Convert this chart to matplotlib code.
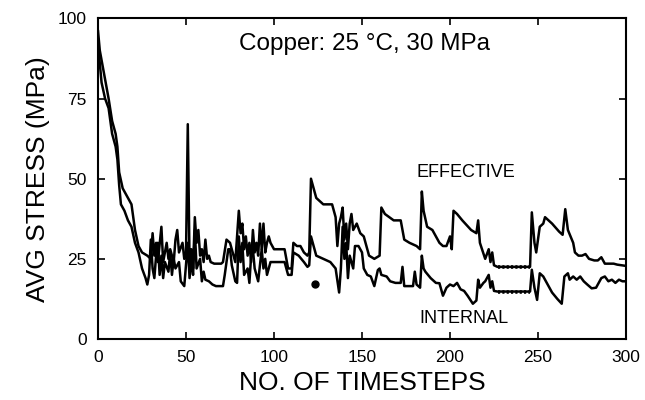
import numpy as np
import matplotlib.pyplot as plt

plt.rcParams['font.family'] = ['Liberation Sans', 'DejaVu Sans']

# EFFECTIVE stress (upper curve)
t_eff = [0, 1, 3, 5, 6, 8, 10, 11, 12, 14, 17, 19, 21, 23, 25, 28, 30,
         31, 32, 33, 34, 36, 37, 39, 40, 41, 43, 44, 45, 46, 48, 49, 50,
         51, 52, 53, 54, 55, 56, 57, 58, 59, 60, 61, 62, 63, 64, 66, 70,
         71, 73, 75, 77, 78, 80, 81, 82, 83, 84, 85, 86, 87, 88, 89, 90,
         91, 92, 93, 94, 95, 96, 97, 98, 100, 106, 108, 110, 111, 113, 115,
         117, 119, 120, 121, 122, 124, 128, 133, 135, 136, 137, 138, 139,
         140, 141, 142, 143, 144, 145, 147, 149, 151, 152, 154, 157, 160,
         161, 163, 168, 172, 174, 177, 181, 183, 184, 185, 187, 190, 192,
         194, 196, 198, 200, 201, 202, 204, 207, 212, 215, 216, 217, 220,
         222, 223, 224, 225, 227, 245.5, 246.5, 248, 249, 251, 253, 254,
         256, 258, 262, 264, 265.5, 267, 270, 271, 273, 275, 277, 279, 282,
         284, 286, 288, 293, 295, 300]
v_eff = [96, 90, 84, 78, 75, 68, 64, 60, 52, 47, 44, 42, 34, 29, 27, 26, 25,
         33, 26, 30, 24, 35, 24, 30, 25, 28, 24, 31, 34, 27, 30, 25, 27,
         67, 24, 28, 22, 38, 30, 34, 26, 28, 24, 31, 25, 26, 24, 23.5, 23.5,
         24, 31, 30, 26, 24, 40, 33, 36, 28, 32, 26, 30, 24, 34, 27, 30,
         26, 36, 28, 36, 27, 30, 32, 30, 28, 28, 22, 22, 30, 29, 29,
         27, 26, 27, 50, 48, 44, 42, 42, 38, 29, 36, 38, 41,
         31, 36, 28, 36, 39, 34, 36, 33, 32, 30, 26, 25, 26,
         41, 39, 37, 37, 31, 30, 29, 28, 46, 40, 35, 34, 32,
         30, 29, 29, 32, 28, 40, 39, 37, 34, 33, 37, 30, 25,
         28, 24, 27, 23, 22.5, 22.5, 39.5, 30, 27, 35, 36, 38,
         37, 36, 33.5, 32.5, 40.5, 34, 30, 27, 26, 26, 26.5, 25, 24.5,
         24.5, 25.5, 23.5, 23.5, 23.2, 22.8]

# INTERNAL stress (lower curve)
t_int = [0, 1, 2, 4, 6, 8, 10, 11, 12, 13, 15, 17, 19, 21, 23, 25, 27, 28,
         29, 30, 31, 32, 33, 34, 35, 36, 37, 38, 40, 41, 42, 43, 44, 46, 47,
         49, 51, 52, 53, 54, 55, 56, 58, 59, 60, 61, 63, 65, 67, 71, 72, 74,
         75, 76, 78, 79, 80, 81, 82, 83, 85, 86, 87, 88, 89, 90, 91, 93, 94,
         95, 96, 98, 104, 106, 108, 110, 111, 114, 117, 119, 120, 121, 122,
         124, 128, 132, 135, 137, 138, 139, 140, 141, 142, 143, 145, 146,
         148, 150, 151, 153, 155, 157, 159, 160, 161, 164, 166, 169, 172,
         173, 174, 179, 180, 181, 183, 184, 185, 186, 189, 192, 194, 196,
         198, 200, 202, 204, 206, 208, 210, 213, 215, 216, 217, 219, 220,
         222, 223, 224, 225, 227, 245.5, 246.5, 248, 249.5, 251, 253, 255,
         258, 261, 263.5, 265, 267, 268, 270, 272, 274, 276, 278, 280.5, 283,
         286, 288, 290, 292, 294, 296, 298, 300]
v_int = [92, 86, 80, 75, 72, 64, 60, 56, 48, 42, 40, 37, 35, 30, 27, 22, 19, 17,
         20, 31, 22, 19, 26, 30, 20, 26, 19, 24, 21, 27, 20, 25, 22, 24, 18,
         16.5, 30, 19, 25, 20, 34, 22, 25, 18, 21, 18.5, 18, 17, 16.5, 16.5, 20, 28,
         28, 23, 18, 17.5, 32, 24, 30, 20, 22, 17.5, 26, 28, 22, 20, 18, 28, 22,
         25, 20, 24, 24, 24, 20, 20, 27, 26, 24, 22.5, 23, 32, 30,
         26, 25, 24, 22, 14.5, 22, 35, 25, 30, 19, 26, 22, 29,
         29, 27, 22, 20, 19.5, 16.5, 21.5, 22, 20, 19.5, 18, 17.5, 17.5,
         22.5, 16.5, 16.5, 21, 17, 16, 26, 22, 21, 19, 17.5, 17.4, 13.5,
         16, 17, 16.5, 17.5, 15.5, 15, 13.5, 11, 12, 18.5, 16, 17.5, 18,
         20, 16, 18, 15, 14.8, 14.8, 21.6, 16, 12.2, 20.5, 19.5, 17.5,
         14.5, 12.5, 11, 19.5, 20.5, 18.5, 19.5, 18.5, 19.5, 18, 17, 15.8, 16,
         19, 19.5, 18, 18.5, 17.5, 18.5, 18, 18]

# flat stretches drawn with a dotted look in the original
flat_t = [227, 245.5]
flat_eff = [22.5, 22.5]
flat_int = [14.8, 14.8]

# stray dot in the original figure
dot_t = [123.5]
dot_v = [17]

fig = plt.figure(figsize=(6.45, 4.0), dpi=100)
ax = fig.add_axes([0.152, 0.1525, 0.8185, 0.8015])

ax.plot(t_eff, v_eff, color='black', lw=1.8)
ax.plot(t_int, v_int, color='black', lw=1.8)
ax.plot(flat_t, flat_eff, color='black', lw=2.6, ls=(0, (0.6, 0.6)))
ax.plot(flat_t, flat_int, color='black', lw=2.6, ls=(0, (0.6, 0.6)))
ax.plot(dot_t, dot_v, 'o', color='black', ms=5)

ax.set_xlim(0, 300)
ax.set_ylim(0, 100)
ax.set_xticks([0, 50, 100, 150, 200, 250, 300])
ax.set_yticks([0, 25, 50, 75, 100])
ax.tick_params(direction='in', length=5, width=1.2, top=True, right=True,
               labelsize=12.5, pad=8)
for s in ax.spines.values():
    s.set_linewidth(1.5)

ax.set_xlabel("NO. OF TIMESTEPS", fontsize=19, labelpad=4)
ax.set_ylabel("AVG STRESS (MPa)", fontsize=19, labelpad=6)

ax.text(80, 92, "Copper: 25 °C, 30 MPa", fontsize=17.5, va='center', ha='left')
ax.text(209, 52, "EFFECTIVE", fontsize=13, ha='center', va='center')
ax.text(208, 6.5, "INTERNAL", fontsize=13, ha='center', va='center')

plt.savefig("out.png", dpi=100)
